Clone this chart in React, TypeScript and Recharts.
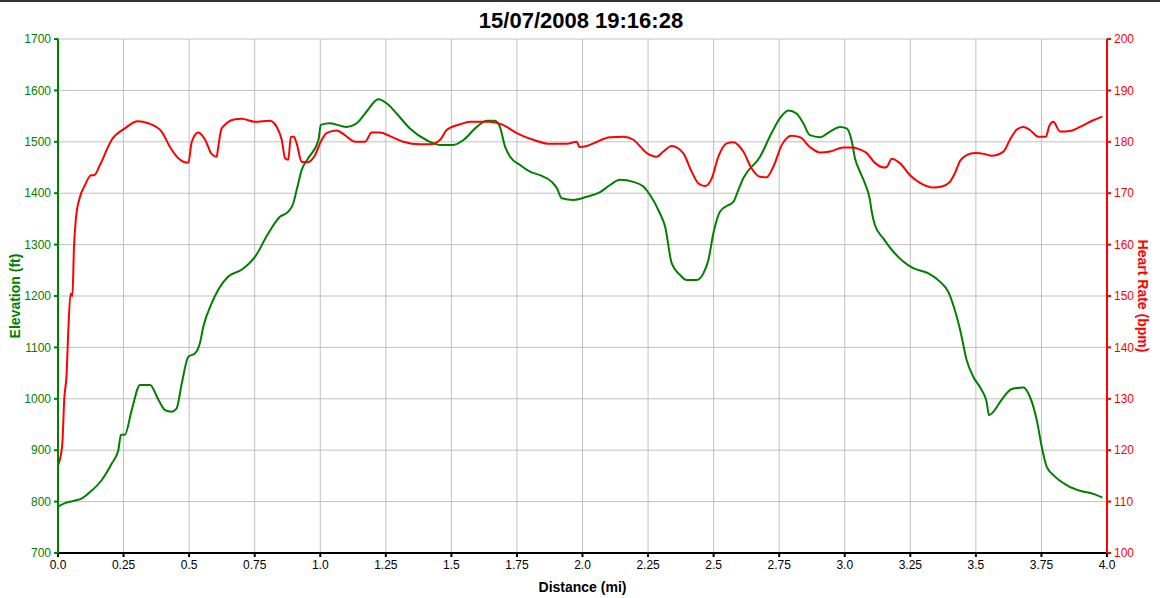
import React from 'react';
import { LineChart, Line, XAxis, YAxis, CartesianGrid } from 'recharts';

const elevDist = [
  0, 0.027, 0.065, 0.09, 0.116, 0.167, 0.205, 0.23, 0.24, 0.255, 0.281, 0.313, 0.351, 0.383, 0.408, 0.433,
  0.452, 0.472, 0.497, 0.522, 0.541, 0.554, 0.586, 0.611, 0.649, 0.7, 0.751, 0.802, 0.846, 0.878, 0.897,
  0.91, 0.929, 0.954, 0.993, 1.002, 1.037, 1.1, 1.139, 1.177, 1.221, 1.26, 1.291, 1.342, 1.406, 1.457,
  1.507, 1.545, 1.597, 1.635, 1.666, 1.685, 1.705, 1.724, 1.762, 1.8, 1.838, 1.883, 1.902, 1.921, 1.965,
  2.016, 2.067, 2.105, 2.143, 2.194, 2.232, 2.257, 2.295, 2.315, 2.34, 2.372, 2.397, 2.435, 2.461, 2.48,
  2.499, 2.524, 2.55, 2.575, 2.594, 2.613, 2.677, 2.721, 2.753, 2.785, 2.816, 2.842, 2.867, 2.906, 2.944,
  2.982, 3.007, 3.026, 3.039, 3.058, 3.077, 3.096, 3.103, 3.115, 3.147, 3.179, 3.223, 3.261, 3.319, 3.363,
  3.395, 3.414, 3.44, 3.465, 3.49, 3.522, 3.541, 3.55, 3.567, 3.598, 3.637, 3.681, 3.706, 3.732, 3.751,
  3.77, 3.795, 3.846, 3.897, 3.948, 3.982,
];
const elevFt = [
  790, 797, 802, 806, 816, 842, 874, 900, 930, 930, 978, 1027, 1027, 998, 978, 975,
  981, 1030, 1082, 1088, 1108, 1140, 1186, 1212, 1238, 1251, 1276, 1322, 1354, 1364, 1380,
  1406, 1445, 1468, 1503, 1533, 1536, 1529, 1536, 1559, 1583, 1572, 1555, 1526, 1503, 1494,
  1494, 1503, 1529, 1541, 1541, 1529, 1490, 1471, 1455, 1442, 1435, 1422, 1410, 1390, 1387,
  1393, 1402, 1416, 1426, 1422, 1413, 1397, 1361, 1335, 1264, 1241, 1231, 1231, 1244, 1270,
  1322, 1364, 1375, 1383, 1406, 1429, 1471, 1517, 1546, 1561, 1555, 1536, 1513, 1509, 1520,
  1529, 1526, 1503, 1468, 1442, 1419, 1387, 1364, 1338, 1312, 1290, 1267, 1254, 1244, 1228,
  1208, 1182, 1134, 1075, 1043, 1017, 994, 968, 975, 998, 1019, 1022, 1004, 959, 907,
  868, 852, 832, 821, 815, 808,
];

const hrDist = [
  0, 0.016, 0.024, 0.033, 0.039, 0.048, 0.055, 0.061, 0.069, 0.084, 0.103, 0.126, 0.138, 0.16, 0.205,
  0.255, 0.304, 0.344, 0.395, 0.427, 0.459, 0.497, 0.51, 0.535, 0.561, 0.586, 0.605, 0.611, 0.624, 0.675,
  0.7, 0.751, 0.808, 0.834, 0.853, 0.866, 0.878, 0.888, 0.899, 0.91, 0.929, 0.948, 0.98, 1.0, 1.024,
  1.063, 1.094, 1.133, 1.171, 1.196, 1.228, 1.266, 1.317, 1.38, 1.418, 1.457, 1.482, 1.533, 1.571, 1.647,
  1.692, 1.749, 1.812, 1.876, 1.94, 1.978, 1.988, 2.016, 2.041, 2.105, 2.156, 2.194, 2.245, 2.283, 2.308,
  2.34, 2.384, 2.416, 2.442, 2.467, 2.493, 2.518, 2.55, 2.575, 2.613, 2.645, 2.677, 2.702, 2.728, 2.76,
  2.797, 2.829, 2.867, 2.906, 2.944, 2.994, 3.033, 3.058, 3.084, 3.115, 3.15, 3.16, 3.179, 3.211, 3.249,
  3.287, 3.338, 3.37, 3.401, 3.42, 3.44, 3.465, 3.497, 3.535, 3.56, 3.605, 3.63, 3.656, 3.681, 3.706,
  3.738, 3.767, 3.78, 3.795, 3.821, 3.859, 3.897, 3.948, 3.982,
];
const hrBpm = [
  117, 121, 130, 135, 143, 150.5, 150, 159.6, 165.4, 169.3, 171.6, 173.5, 173.5, 175.5, 180.4,
  182.6, 184, 183.6, 182, 179, 176.8, 175.9, 180, 181.8, 180.4, 177.6, 177.1, 179, 182.6, 184.4,
  184.5, 183.9, 184.1, 182.9, 180.4, 176.8, 176.5, 181, 181, 179.7, 176.1, 176, 177.4, 179.8, 181.7,
  182.2, 181.3, 180, 180, 181.8, 181.8, 181.1, 180, 179.5, 179.5, 180.4, 182.3, 183.4, 183.9, 183.9,
  183.4, 181.7, 180.4, 179.6, 179.6, 180, 179, 179.2, 179.7, 180.9, 181, 180.4, 177.8, 177.1, 178.1,
  179.2, 177.8, 174.2, 171.9, 171.4, 172.9, 177.1, 179.7, 179.9, 178.1, 174.8, 173.2, 173.1, 175.2, 179.4,
  181.2, 180.9, 179, 177.9, 178.1, 178.9, 178.9, 178.5, 177.8, 175.9, 175, 175.1, 176.7, 175.8, 173.5,
  172, 171.1, 171.3, 172.2, 173.9, 176.3, 177.4, 177.8, 177.6, 177.3, 178.1, 180.4, 182.4, 182.9, 182.3,
  181, 181, 183.1, 183.9, 182, 182.1, 182.9, 184.2, 184.9,
];

const xTicks = [0, 0.25, 0.5, 0.75, 1, 1.25, 1.5, 1.75, 2, 2.25, 2.5, 2.75, 3, 3.25, 3.5, 3.75, 4];
const elevTicks = [700, 800, 900, 1000, 1100, 1200, 1300, 1400, 1500, 1600, 1700];
const hrTicks = [100, 110, 120, 130, 140, 150, 160, 170, 180, 190, 200];

const elevData = elevDist.map((d, i) => ({ dist: d, elev: elevFt[i] }));
const hrData = hrDist.map((d, i) => ({ dist: d, hr: hrBpm[i] }));

const GREEN = '#008000';
const RED = '#ff0000';
const FONT = '"Liberation Sans", Arial, sans-serif';

const fmtDist = (v: number) => (Number.isInteger(v) ? v.toFixed(1) : String(v));

export default function App() {
  return (
    <div
      style={{
        position: 'absolute',
        left: 0,
        top: 0,
        width: 1160,
        height: 598,
        background: '#fff',
        fontFamily: FONT,
      }}
    >
      <div style={{ position: 'absolute', left: 0, top: 0, width: 1160, height: 2, background: '#333' }} />
      <div
        style={{
          position: 'absolute',
          left: 0,
          top: 10,
          width: 1162,
          textAlign: 'center',
          fontSize: 22,
          lineHeight: '22px',
          fontWeight: 'bold',
          color: '#000',
        }}
      >
        15/07/2008 19:16:28
      </div>
      <LineChart
        width={1160}
        height={598}
        margin={{ top: 39, right: 0, bottom: 0, left: 0 }}
        style={{ position: 'absolute', left: 0, top: 0, fontFamily: FONT }}
      >
        <CartesianGrid stroke="#c0c0c0" strokeWidth={1} yAxisId="elev" />
        <XAxis
          dataKey="dist"
          type="number"
          domain={[0, 4]}
          ticks={xTicks}
          tickFormatter={fmtDist}
          allowDataOverflow
          height={45}
          tickSize={4}
          tickMargin={3}
          axisLine={{ stroke: '#000', strokeWidth: 2 }}
          tickLine={{ stroke: '#000', strokeWidth: 2 }}
          tick={{ fill: '#000', fontSize: 12 }}
          label={{
            value: 'Distance (mi)',
            position: 'insideBottom',
            offset: 6,
            style: { fill: '#000', fontSize: 14, fontWeight: 'bold' },
          }}
        />
        <YAxis
          yAxisId="elev"
          orientation="left"
          domain={[700, 1700]}
          ticks={elevTicks}
          allowDataOverflow
          width={58}
          tickSize={4}
          tickMargin={3}
          axisLine={{ stroke: GREEN, strokeWidth: 2 }}
          tickLine={{ stroke: GREEN, strokeWidth: 2 }}
          tick={{ fill: GREEN, fontSize: 12 }}
          label={{
            value: 'Elevation (ft)',
            angle: -90,
            position: 'insideLeft',
            offset: 15,
            style: { fill: GREEN, fontSize: 14, fontWeight: 'bold', textAnchor: 'middle' },
          }}
        />
        <YAxis
          yAxisId="hr"
          orientation="right"
          domain={[100, 200]}
          ticks={hrTicks}
          allowDataOverflow
          width={53}
          tickSize={4}
          tickMargin={3}
          axisLine={{ stroke: RED, strokeWidth: 2 }}
          tickLine={{ stroke: RED, strokeWidth: 2 }}
          tick={{ fill: RED, fontSize: 12 }}
          label={{
            value: 'Heart Rate (bpm)',
            angle: 90,
            position: 'insideRight',
            offset: 17,
            style: { fill: RED, fontSize: 14, fontWeight: 'bold', textAnchor: 'middle' },
          }}
        />
        <Line
          yAxisId="elev"
          data={elevData}
          dataKey="elev"
          type="monotone"
          stroke={GREEN}
          strokeWidth={2}
          dot={false}
          isAnimationActive={false}
        />
        <Line
          yAxisId="hr"
          data={hrData}
          dataKey="hr"
          type="monotone"
          stroke={RED}
          strokeWidth={2}
          dot={false}
          isAnimationActive={false}
        />
      </LineChart>
    </div>
  );
}
